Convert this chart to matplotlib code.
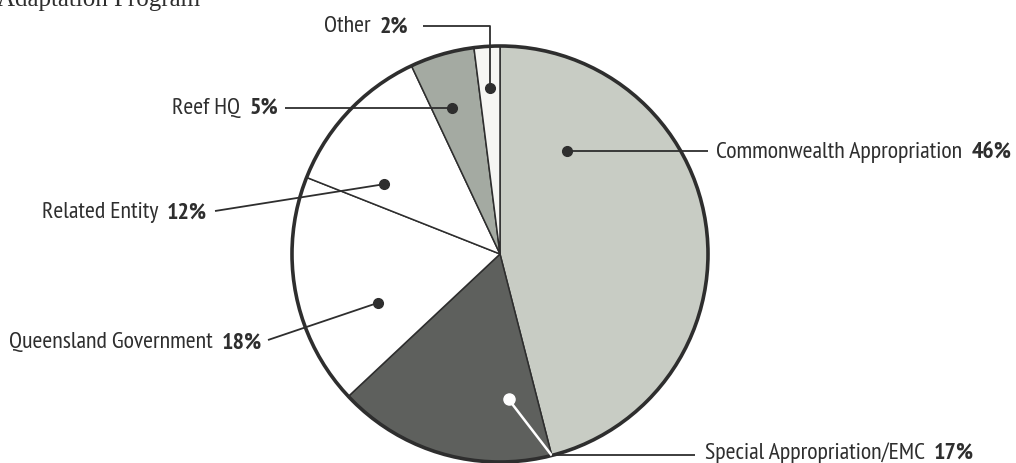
import matplotlib
matplotlib.use("Agg")
import matplotlib.pyplot as plt
from matplotlib.patches import Circle
import numpy as np

# Funding sources, clockwise from 12 o'clock
SOURCES = ["Commonwealth Appropriation", "Special Appropriation/EMC",
           "Queensland Government", "Related Entity", "Reef HQ", "Other"]
SHARES = [46, 17, 18, 12, 5, 2]
COLORS = ["#c8ccc4", "#5e605d", "#ffffff", "#ffffff", "#a4aaa2", "#f6f6f3"]

INK = "#2e2e2e"
FONT = ["PT Sans Narrow", "Roboto Condensed", "Archivo Narrow", "DejaVu Sans"]
W, H = 1016, 464
CX, CY, R = 500, H - 255, 208

# where each leader dot sits: fraction across its wedge (clockwise), fraction of radius
DOT_FRAC = [0.20, 0.18, 0.33, 0.22, 0.40, 0.50]
DOT_RAD = [0.59, 0.70, 0.63, 0.65, 0.74, 0.80]

fig = plt.figure(figsize=(W / 100, H / 100), dpi=100)
ax = fig.add_axes([0, 0, 1, 1])
wedges, _ = ax.pie(SHARES, colors=COLORS, startangle=90, counterclock=False,
                   center=(CX, CY), radius=R,
                   wedgeprops=dict(edgecolor=INK, linewidth=1.1))
ax.add_patch(Circle((CX, CY), R, fill=False, edgecolor=INK, linewidth=2.6,
                    zorder=5))
ax.set_xlim(0, W)
ax.set_ylim(0, H)
ax.set_aspect("equal")
ax.axis("off")


def dot_xy(i):
    w = wedges[i]
    a = np.deg2rad(w.theta2 - DOT_FRAC[i] * (w.theta2 - w.theta1))
    return CX + DOT_RAD[i] * R * np.cos(a), CY + DOT_RAD[i] * R * np.sin(a)


fig.canvas.draw()
rend = fig.canvas.get_renderer()


def label(x, y, name, pct, side):
    """side='left' -> text ends at x, side='right' -> text starts at x."""
    kw = dict(fontsize=17.2, color=INK, family=FONT, va="center")
    if side == "right":
        t = ax.text(x, y, name, ha="left", **kw)
        bb = t.get_window_extent(rend)
        ax.text(bb.x1 + 9, y, pct, ha="left", fontweight="bold", **kw)
    else:
        t = ax.text(x, y, pct, ha="right", fontweight="bold", **kw)
        bb = t.get_window_extent(rend)
        ax.text(bb.x0 - 9, y, name, ha="right", **kw)


def leader(pts, color=INK, lw=1.3):
    xs, ys = zip(*pts)
    ax.plot(xs, ys, color=color, linewidth=lw, zorder=6, solid_capstyle="butt")


pcts = [f"{s}%" for s in SHARES]

# Commonwealth
dx, dy = dot_xy(0)
leader([(dx, dy), (708, dy)])
ax.plot(dx, dy, "o", color=INK, markersize=7, zorder=7)
label(716, dy, SOURCES[0], pcts[0], "right")

# Special Appropriation (white leader inside the dark wedge)
dx, dy = dot_xy(1)
a = np.deg2rad(wedges[1].theta2)
ex, ey = CX + R * np.cos(a), CY + R * np.sin(a)
leader([(dx, dy), (ex, ey)], color="white", lw=1.8)
leader([(ex, ey), (695, ey)])
ax.plot(dx, dy, "o", color="white", markersize=8, zorder=7)
label(705, ey + 3, SOURCES[1], pcts[1], "right")

# Queensland Government
dx, dy = dot_xy(2)
leader([(dx, dy), (268, H - 341)])
ax.plot(dx, dy, "o", color=INK, markersize=7, zorder=7)
label(262, H - 343, SOURCES[2], pcts[2], "left")

# Related Entity
dx, dy = dot_xy(3)
leader([(dx, dy), (215, H - 212)])
ax.plot(dx, dy, "o", color=INK, markersize=7, zorder=7)
label(207, H - 213, SOURCES[3], pcts[3], "left")

# Reef HQ
dx, dy = dot_xy(4)
leader([(dx, dy), (285, dy)])
ax.plot(dx, dy, "o", color=INK, markersize=7, zorder=7)
label(278, dy, SOURCES[4], pcts[4], "left")

# Other
dx, dy = dot_xy(5)
leader([(dx, dy), (dx, H - 27), (423, H - 27)])
ax.plot(dx, dy, "o", color=INK, markersize=7, zorder=7)
label(408, H - 27, SOURCES[5], pcts[5], "left")

# clipped heading from the page above
ax.text(-3, H - 6, "Adaptation Program", fontsize=18, color=INK,
        family=["Liberation Serif", "DejaVu Serif"], va="baseline", ha="left")

fig.savefig("out.png", dpi=100)
